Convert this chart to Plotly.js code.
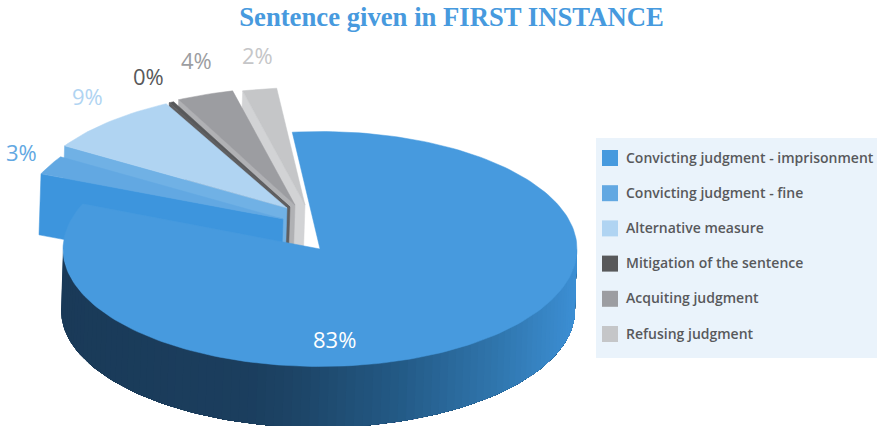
<!DOCTYPE html>
<html>
<head>
<meta charset="utf-8">
<script src="https://cdn.plot.ly/plotly-3.0.1.min.js"></script>
<style>html,body{margin:0;padding:0;background:#fff}#chart{width:877px;height:426px}</style>
</head>
<body>
<div id="chart"></div>
<script>
// ---- data ----
const categories = ['Convicting judgment - imprisonment','Convicting judgment - fine','Alternative measure','Mitigation of the sentence','Acquiting judgment','Refusing judgment'];
const values = [83, 2.6, 8.5, 0.3, 3.5, 2.1];
const pctLabels = ['83%','3%','9%','0%','4%','2%'];
const topColors = ['#479ade','#62a8e2','#b0d4f2','#58595b','#9c9da1','#c5c6c8'];
const wallColors = ['#1a3b59','#3d95dd','#70b1e5','#5f5f61','#b0b1b4','#d2d3d5'];
const labelColors = ['#ffffff','#62a8e2','#b0d4f2','#58595b','#9c9da1','#c5c6c8'];
const titleText = 'Sentence given in FIRST INSTANCE';

// ---- geometry of the 3D pie ----
const rx = 257, ry = 117.5, startDeg = -6.2, depth = [-2, 61];
const explodedRx = 1.02;
const apexes = [[320,249],[283,219],[287,208],[290,207],[295,205],[305,205]];
const labelPos = [[334,339],[21,152],[87,96],[148,76],[196,60],[257,55]];
const wallStops = [[60,[26,58,88]],[250,[27,62,94]],[300,[29,69,103]],[400,[35,90,134]],[500,[48,118,174]],[577,[60,143,212]]];

const total = values.reduce((a,b)=>a+b,0);
const rad = d => d*Math.PI/180;
function rim(ax,ay,deg,k){ return [ax+(k||1)*rx*Math.sin(rad(deg)), ay-ry*Math.cos(rad(deg))]; }
function wallColor(x){
  for(let i=1;i<wallStops.length;i++){
    if(x<=wallStops[i][0]){
      const a=wallStops[i-1], b=wallStops[i], f=Math.max(0,(x-a[0])/(b[0]-a[0]));
      return 'rgb('+a[1].map((c,k)=>Math.round(c+(b[1][k]-c)*f)).join(',')+')';
    }
  }
  return 'rgb('+wallStops[wallStops.length-1][1].join(',')+')';
}
function poly(pts,color,name,noLine){
  return {type:'scatter',mode:'lines',x:pts.concat([pts[0]]).map(p=>p[0]),y:pts.concat([pts[0]]).map(p=>p[1]),
    fill:'toself',fillcolor:color,line:{color:color,width:noLine?0:0.5},hoverinfo:'skip',showlegend:false,name:name};
}
// angular extents
const spans=[]; let cur=startDeg;
values.forEach(v=>{const s=cur,e=cur+v/total*360;spans.push([s,e]);cur=e;});

const traces=[];
// rim wall of the main slice: each band reaches to the far end of the wall, painted over by the next one
const c0=apexes[0], nSeg=90;
for(let i=0;i<nSeg;i++){
  const a=270-180*i/nSeg, mid=270-180*(i+0.5)/nSeg, top=[], bot=[];
  for(let d=a; d>=90-0.001; d-=2){
    const p=rim(c0[0],c0[1],d);
    top.push(p); bot.unshift([p[0]+depth[0],p[1]+depth[1]]);
  }
  traces.push(poly(top.concat(bot),wallColor(rim(c0[0],c0[1],mid)[0]),categories[0],true));
}
function sector(i,k){
  const [s,e]=spans[i], ap=apexes[i], pts=[ap], n=Math.max(4,Math.ceil((e-s)/1.5));
  for(let j=0;j<=n;j++) pts.push(rim(ap[0],ap[1],s+(e-s)*j/n,k));
  return pts;
}
// exploded slices, back to front
for(let i=values.length-1;i>=1;i--){
  const ap=apexes[i], p=rim(ap[0],ap[1],spans[i][0],explodedRx);
  traces.push(poly([ap,p,[p[0]+depth[0],p[1]+depth[1]],[ap[0]+depth[0],ap[1]+depth[1]]],wallColors[i],categories[i]));
  traces.push(poly(sector(i,explodedRx),topColors[i],categories[i]));
}
// main slice on top
traces.push(poly(sector(0),topColors[0],categories[0]));

// legend panel
const shapes=[{type:'rect',xref:'x',yref:'y',x0:596,x1:877,y0:138,y1:358,fillcolor:'#eaf3fb',line:{width:0},layer:'below'}];
const annotations=[];
const rowY=i=>158+35.2*i;
categories.forEach((c,i)=>{
  shapes.push({type:'rect',xref:'x',yref:'y',x0:602,x1:618,y0:rowY(i)-8,y1:rowY(i)+8,fillcolor:topColors[i],line:{width:0}});
  annotations.push({x:624,y:rowY(i)-1,xref:'x',yref:'y',text:c,showarrow:false,xanchor:'left',yanchor:'middle',
    font:{family:'"Open Sans",sans-serif',size:14,color:'#58595b',weight:600}});
});
pctLabels.forEach((t,i)=>{
  annotations.push({x:labelPos[i][0],y:labelPos[i][1],xref:'x',yref:'y',text:t,showarrow:false,xanchor:'center',yanchor:'middle',
    font:{family:'"Open Sans",sans-serif',size:22,color:labelColors[i]}});
});

Plotly.newPlot('chart',traces,{
  width:877,height:426,margin:{l:0,r:0,t:0,b:0},showlegend:false,
  paper_bgcolor:'#ffffff',plot_bgcolor:'#ffffff',
  title:{text:titleText,x:451.5/877,xanchor:'center',y:1-17/426,yanchor:'middle',
    font:{family:'"Liberation Serif",serif',size:26.7,color:'#479ade',weight:700}},
  xaxis:{range:[0,877],visible:false,fixedrange:true},
  yaxis:{range:[426,0],visible:false,fixedrange:true},
  shapes:shapes,annotations:annotations
},{displayModeBar:false,staticPlot:true});
</script>
</body>
</html>
